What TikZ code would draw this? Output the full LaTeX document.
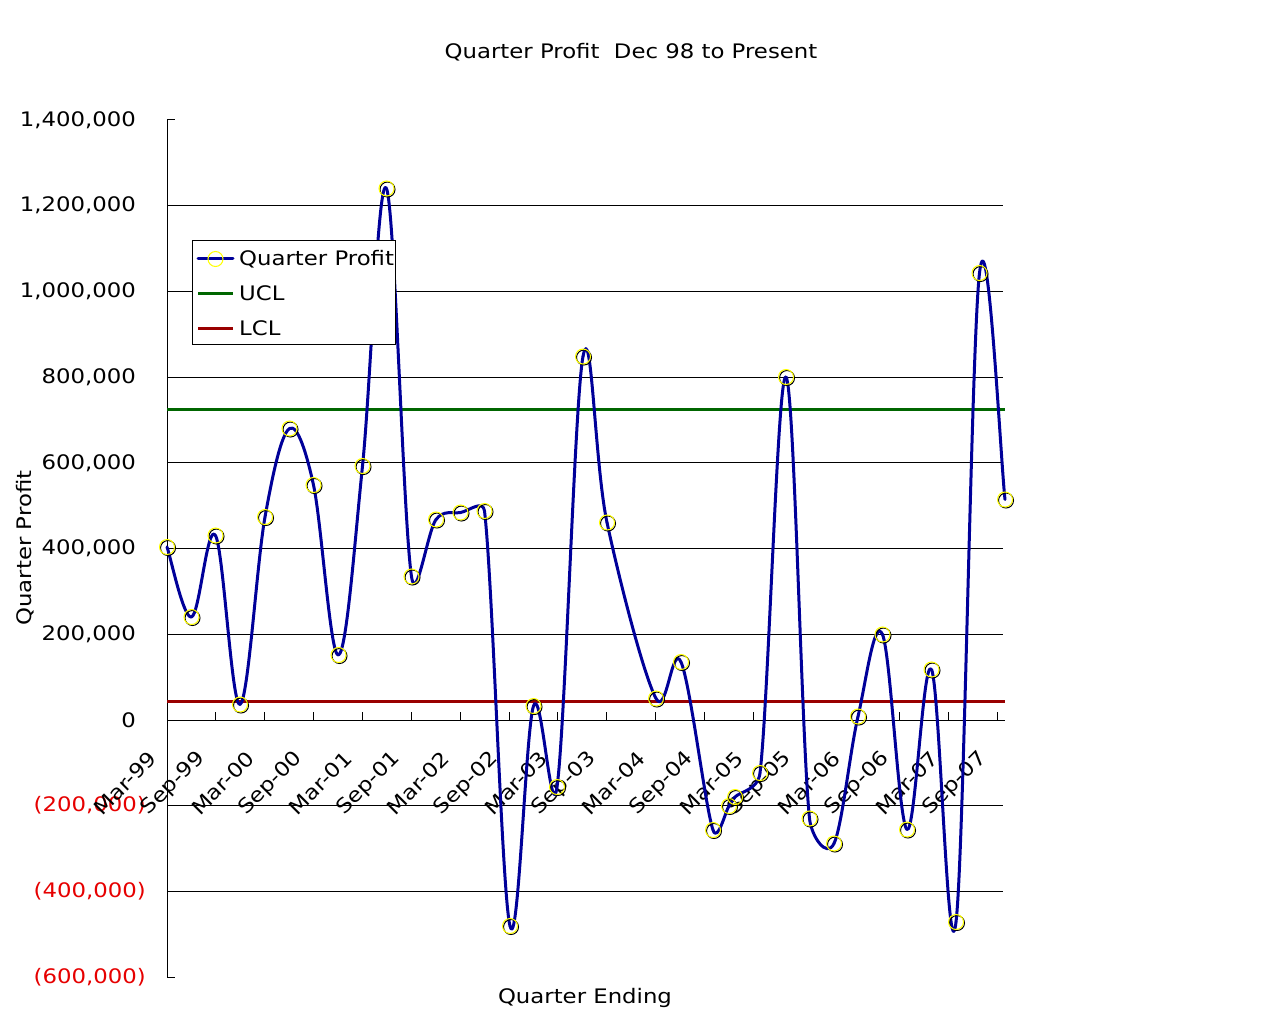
\documentclass[tikz,border=0pt]{standalone}
\usepackage{fontspec}
\setmainfont{DejaVu Sans}[FakeStretch=1.14]
\usepackage{xcolor}
\usetikzlibrary{calc}
\definecolor{profitblue}{RGB}{0,0,153}
\definecolor{uclgreen}{RGB}{0,102,0}
\definecolor{lclred}{RGB}{153,0,0}
\definecolor{negred}{RGB}{230,0,0}
\definecolor{dotyellow}{RGB}{255,255,0}

\begin{document}
\begin{tikzpicture}[x=1pt, y=-1pt, font=\fontsize{20}{24}\selectfont,
    gridline/.style = {draw=black, line width=1pt},
    profit/.style = {draw=profitblue, line width=3pt, line join=round, line cap=round},
    ucl/.style = {draw=uclgreen, line width=3pt},
    lcl/.style = {draw=lclred, line width=3pt},
    ylab/.style = {anchor=east, inner sep=0pt},
    xlab/.style = {anchor=east, rotate=45, inner sep=0pt},
    dot/.style = {circle, draw=dotyellow, line width=1pt, minimum size=15pt, inner sep=0pt}]
    \useasboundingbox (0,0) rectangle (1280,1024);

    % title and axis titles
    \node (title) at (631,52) {Quarter Profit\ \ Dec 98 to Present};
    \node (xtitle) at (585,998) {Quarter Ending};
    \node[rotate=90] (ytitle) at (25,548) {Quarter Profit};

    % grid
    \foreach \gy in {205.7,291.4,377.1,462.9,548.6,634.3,805.7,891.4}
        \draw[gridline] (167,\gy) -- (1003,\gy);
    \draw[gridline] (167,120) -- (167,977);
    \draw[gridline] (167,720) -- (1005,720);
    \foreach \gy in {120,205.7,291.4,377.1,462.9,548.6,634.3,805.7,891.4,977}
        \draw[gridline] (167,\gy) -- (175,\gy);
    \foreach \k in {1,...,17}
        \draw[gridline] ({167+48.86*\k},720) -- ({167+48.86*\k},712);

    % y labels
    \node[ylab] (y1400) at (136,120) {1,400,000};
    \node[ylab] (y1200) at (136,205.7) {1,200,000};
    \node[ylab] (y1000) at (136,291.4) {1,000,000};
    \node[ylab] (y800) at (136,377.1) {800,000};
    \node[ylab] (y600) at (136,462.9) {600,000};
    \node[ylab] (y400) at (136,548.6) {400,000};
    \node[ylab] (y200) at (136,634.3) {200,000};
    \node[ylab] (y0) at (136,720) {0};
    \node[ylab, text=negred] (ym200) at (146,805.7) {(200,000)};
    \node[ylab, text=negred] (ym400) at (146,891.4) {(400,000)};
    \node[ylab, text=negred] (ym600) at (146,977) {(600,000)};

    % x labels
    \foreach \lab [count=\k from 0] in {Mar-99,Sep-99,Mar-00,Sep-00,Mar-01,Sep-01,Mar-02,Sep-02,Mar-03,Sep-03,Mar-04,Sep-04,Mar-05,Sep-05,Mar-06,Sep-06,Mar-07,Sep-07}
        \node[xlab] (x\k) at ({153+48.86*\k},755) {\lab};

    % control limits
    \draw[ucl] (167,409.3) -- (1005,409.3);
    \draw[lcl] (167,701.3) -- (1005,701.3);

    % quarter profit
    \foreach \px/\py [count=\i] in {167/547,191.5/617,215.5/535.5,240/704.5,265/517,289.5/428.5,313.5/485,338.5/655,362.5/466,386.5/188.5,411.5/576.5,436/519.5,460.5/512.5,484.5/511,510/926,533.5/706,557/787,583/356.5,607/522.5,656/698.5,681/662,713/830,729/806,735/797,760/773,786/377,809.5/818.5,834/843.5,858/716.5,882.5/634.5,907/829.5,931.5/669.5,956/922,979.5/273,1005/499.5}
        \coordinate (p\i) at (\px,\py);
    \coordinate (p0) at (p1);
    \coordinate (p36) at (p35);
    % smoothed segments
    \foreach \i [evaluate=\i as \h using int(\i-1), evaluate=\i as \j using int(\i+1), evaluate=\i as \k using int(\i+2)] in {1,...,34}
        \draw[profit] let \p0=(p\h), \p1=(p\i), \p2=(p\j), \p3=(p\k),
            \n1={veclen(\x2-\x0,\y2-\y0)}, \n2={veclen(\x3-\x1,\y3-\y1)}, \n3={veclen(\x2-\x1,\y2-\y1)},
            \n4={min(\n1/6,\n3/2)/\n1}, \n5={min(\n2/6,\n3/2)/\n2} in
            (p\i) .. controls ({\x1+\n4*(\x2-\x0)},{\y1+\n4*(\y2-\y0)}) and ({\x2-\n5*(\x3-\x1)},{\y2-\n5*(\y3-\y1)}) .. (p\j);
    \foreach \i in {1,...,35} {
        \draw[black, line width=1pt] ([shift={(1,1)}]p\i) circle (7.5);
        \node[dot] (m\i) at (p\i) {};
    }

    % legend
    \node[draw=black, fill=white, line width=1pt, minimum width=203pt, minimum height=104pt, inner sep=0pt] (legend) at (293.5,293) {};
    \coordinate (l1a) at (198,259);
    \coordinate (l1b) at (233,259);
    \draw[profit] (l1a) -- (l1b);
    \node[dot] (lm) at (215.5,259) {};
    \node[anchor=west, inner sep=0pt] (lt1) at (239,259) {Quarter Profit};
    \coordinate (l2a) at (198,293.5);
    \coordinate (l2b) at (233,293.5);
    \draw[ucl] (l2a) -- (l2b);
    \node[anchor=west, inner sep=0pt] (lt2) at (239,293.5) {UCL};
    \coordinate (l3a) at (198,328.5);
    \coordinate (l3b) at (233,328.5);
    \draw[lcl] (l3a) -- (l3b);
    \node[anchor=west, inner sep=0pt] (lt3) at (239,328.5) {LCL};
\end{tikzpicture}
\end{document}
